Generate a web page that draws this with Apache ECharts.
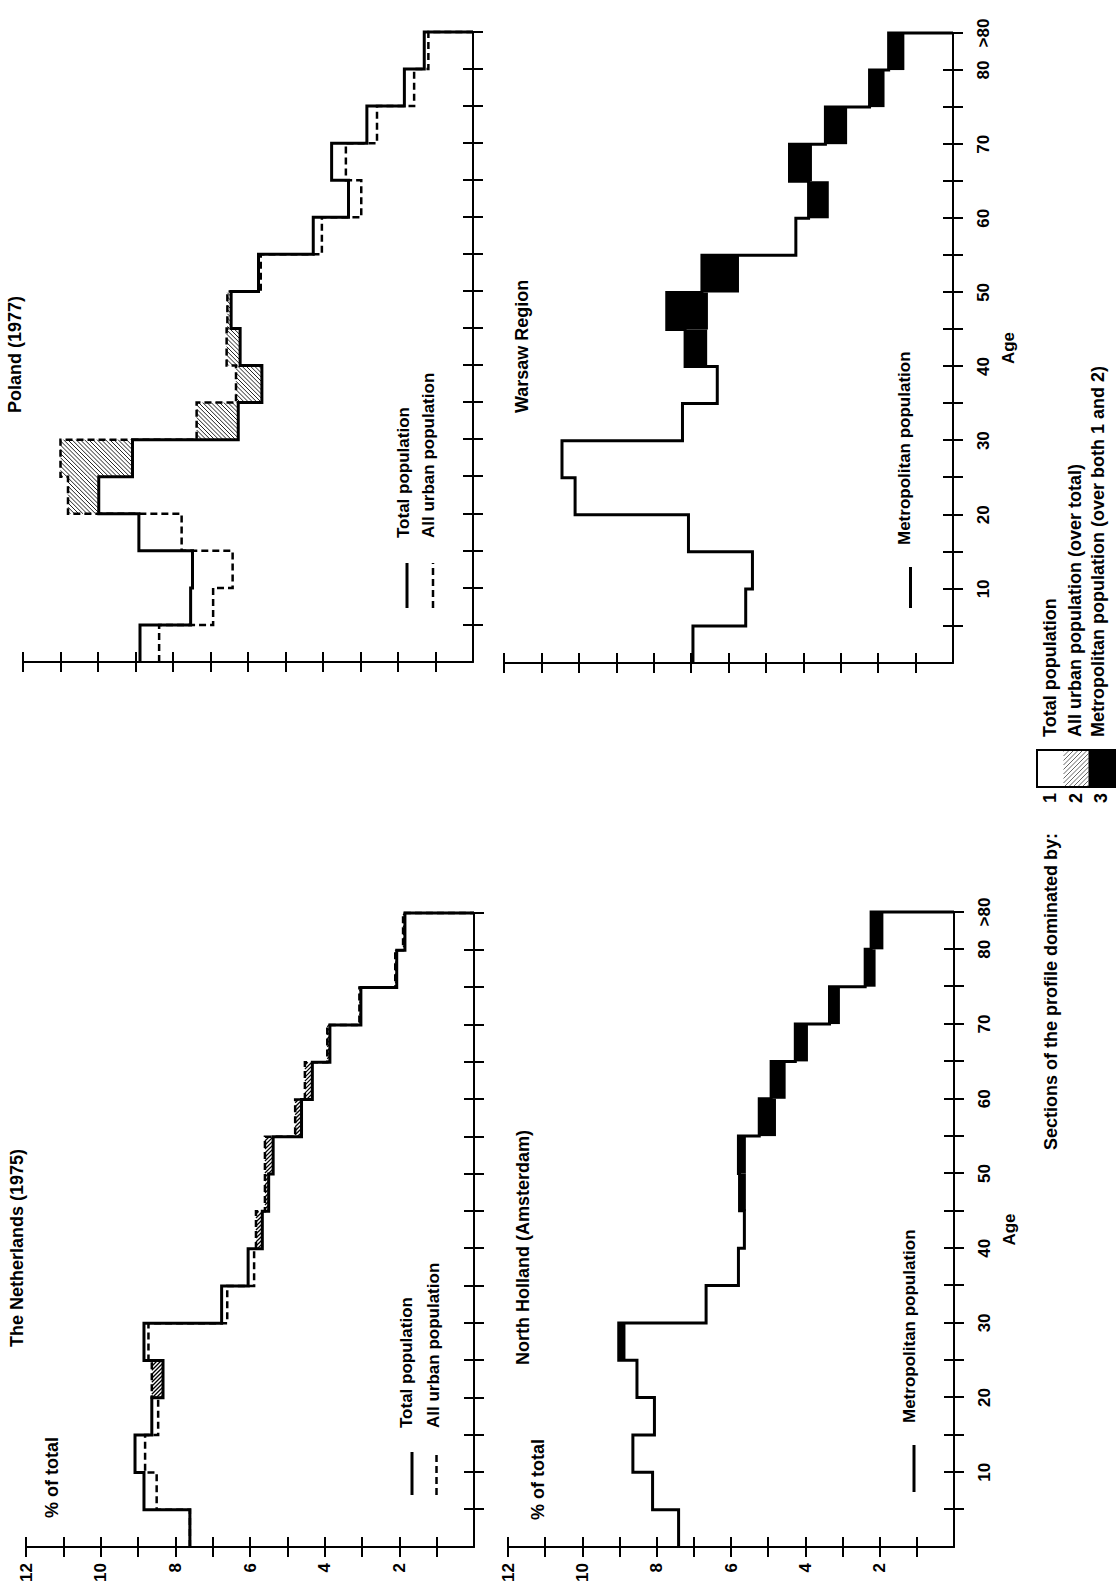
<!DOCTYPE html>
<html>
<head>
<meta charset="utf-8">
<title>Age profiles: The Netherlands and Poland</title>
<script src="https://cdn.jsdelivr.net/npm/echarts@6/dist/echarts.min.js"></script>
<style>
  html, body { margin: 0; padding: 0; background: #fff; overflow: hidden; width: 1118px; height: 1590px; }
  /* The figure is laid out landscape and turned a quarter turn to sit on the portrait page */
  #page { position: absolute; left: 0; top: 0; width: 1590px; height: 1118px;
          transform-origin: 0 0; transform: translateY(1590px) rotate(-90deg); background: #fff; }
</style>
</head>
<body>
<div id="page"></div>
<script>
// Five-year age groups (start of each group); the last group is ">80"
const ageStarts = [0, 5, 10, 15, 20, 25, 30, 35, 40, 45, 50, 55, 60, 65, 70, 75, 80];
const ageTickValues = [5, 10, 15, 20, 25, 30, 35, 40, 45, 50, 55, 60, 65, 70, 75, 80, 85];
const ageLabelValues = [10, 20, 30, 40, 50, 60, 70, 80, 85];
const pctTickValues = [1, 2, 3, 4, 5, 6, 7, 8, 9, 10, 11, 12];
const pctLabelValues = [2, 4, 6, 8, 10, 12];

// The Netherlands (1975), % of total in each age group
const nlTotal = [7.61, 8.84, 9.08, 8.63, 8.33, 8.84, 6.76, 6.05, 5.67, 5.50, 5.38, 4.62, 4.33, 3.86, 3.03, 2.07, 1.85];
const nlUrban = [7.61, 8.50, 8.81, 8.46, 8.63, 8.72, 6.61, 5.89, 5.84, 5.60, 5.60, 4.79, 4.53, 3.93, 3.07, 2.11, 1.90];
// North Holland (Amsterdam), metropolitan population
const nhMetro = [7.41, 8.11, 8.64, 8.06, 8.53, 9.02, 6.67, 5.80, 5.64, 5.77, 5.80, 5.24, 4.92, 4.27, 3.35, 2.39, 2.23];

// Poland (1977)
const plTotal = [8.88, 7.53, 7.48, 8.91, 9.98, 9.08, 6.26, 5.63, 6.21, 6.45, 5.72, 4.26, 3.32, 3.77, 2.83, 1.83, 1.30];
const plUrban = [8.37, 6.93, 6.41, 7.77, 10.80, 11.00, 7.37, 6.32, 6.57, 6.55, 5.66, 4.03, 2.98, 3.39, 2.56, 1.57, 1.19];
// Warsaw Region, metropolitan population
const waMetro = [6.95, 5.54, 5.36, 7.07, 10.10, 10.45, 7.23, 6.30, 7.16, 7.65, 6.71, 4.20, 3.86, 4.37, 3.41, 2.23, 1.72];

const FONT = '"Liberation Sans", Arial, Helvetica, sans-serif';
const INK = '#000';

// Step outline of a profile: each group is held flat to the next group start, closed down to zero after ">80"
function profile(vals) {
  return ageStarts.map((a, i) => [a, vals[i]])
    .concat([[85, vals[vals.length - 1]], [85, 0]]);
}

// Age groups where one profile lies above another: [ageFrom, ageTo, low, high]
function excess(upper, lowerFn) {
  const out = [];
  ageStarts.forEach((a, i) => {
    const lo = lowerFn(i);
    if (upper[i] > lo) out.push([a, a + 5, lo, upper[i]]);
  });
  return out;
}

// Diagonal hatch segments inside a pixel rectangle; dir 1 runs "\" and -1 runs "/"
function hatchSegments(x0, y0, x1, y1, dir, gap) {
  const segs = [];
  if (dir > 0) {
    const cMin = y0 - x1, cMax = y1 - x0;
    for (let c = Math.ceil(cMin / gap) * gap; c <= cMax; c += gap) {
      const xa = Math.max(x0, y0 - c), xb = Math.min(x1, y1 - c);
      if (xb - xa > 0.4) segs.push([xa, xa + c, xb, xb + c]);
    }
  } else {
    const cMin = x0 + y0, cMax = x1 + y1;
    for (let c = Math.ceil(cMin / gap) * gap; c <= cMax; c += gap) {
      const xa = Math.max(x0, c - y1), xb = Math.min(x1, c - y0);
      if (xb - xa > 0.4) segs.push([xa, c - xa, xb, c - xb]);
    }
  }
  return segs;
}

function hatchItem(dir, gap, lw, color) {
  return function (params, api) {
    const a = api.coord([api.value(0), api.value(3)]);
    const b = api.coord([api.value(1), api.value(2)]);
    const x0 = Math.min(a[0], b[0]), x1 = Math.max(a[0], b[0]);
    const y0 = Math.min(a[1], b[1]), y1 = Math.max(a[1], b[1]);
    const children = hatchSegments(x0, y0, x1, y1, dir, gap).map(s => ({
      type: 'line',
      shape: { x1: s[0], y1: s[1], x2: s[2], y2: s[3] },
      style: { stroke: color, lineWidth: lw, fill: null }
    }));
    return { type: 'group', children: children };
  };
}

function solidItem(params, api) {
  const a = api.coord([api.value(0), api.value(3)]);
  const b = api.coord([api.value(1), api.value(2)]);
  return {
    type: 'rect',
    shape: { x: Math.min(a[0], b[0]), y: Math.min(a[1], b[1]),
             width: Math.abs(b[0] - a[0]), height: Math.abs(b[1] - a[1]) },
    style: { fill: INK }
  };
}

const grids = [
  { left: 43, top: 26, width: 634, height: 448 },   // The Netherlands
  { left: 928, top: 23, width: 630, height: 450 },  // Poland
  { left: 43, top: 508, width: 635, height: 446 },  // North Holland
  { left: 927, top: 504, width: 630, height: 449 }  // Warsaw Region
].map(g => Object.assign({ containLabel: false, outerBoundsMode: 'none' }, g));

const labelFont = { color: INK, fontSize: 17, fontWeight: 'bold', fontFamily: FONT };
const tickLine = { color: INK, width: 2 };

const xAxes = [], yAxes = [];
grids.forEach((g, gi) => {
  const bottomRow = gi >= 2;
  const leftCol = gi % 2 === 0;
  // age axis: outer ticks with labels, then inner ticks so the ticks cross the line
  xAxes.push({
    type: 'value', gridIndex: gi, min: 0, max: 85, interval: 5, position: 'bottom',
    axisLine: { show: true, onZero: false, lineStyle: { color: INK, width: 2 } },
    axisTick: { show: true, inside: false, length: 10, customValues: ageTickValues, lineStyle: tickLine },
    axisLabel: Object.assign({
      show: bottomRow, customValues: ageLabelValues, margin: 22,
      formatter: v => (v === 85 ? '>80' : String(v))
    }, labelFont),
    splitLine: { show: false },
    name: bottomRow ? 'Age' : '', nameLocation: 'middle', nameGap: 47,
    nameTextStyle: labelFont
  });
  xAxes.push({
    type: 'value', gridIndex: gi, min: 0, max: 85, interval: 5, position: 'bottom',
    axisLine: { show: false, onZero: false },
    axisTick: { show: true, inside: true, length: 10, customValues: ageTickValues, lineStyle: tickLine },
    axisLabel: { show: false }, splitLine: { show: false }
  });
  // percentage axis: every whole percent ticked, even ones labelled
  yAxes.push({
    type: 'value', gridIndex: gi, min: 0, max: 12, interval: 1, position: 'left',
    axisLine: { show: true, onZero: false, lineStyle: { color: INK, width: 2 } },
    axisTick: { show: true, inside: false, length: 10, customValues: pctTickValues, lineStyle: tickLine },
    axisLabel: Object.assign({
      show: leftCol, margin: 16, hideOverlap: false,
      formatter: v => (pctLabelValues.indexOf(v) >= 0 ? String(v) : '')
    }, labelFont),
    splitLine: { show: false }
  });
  yAxes.push({
    type: 'value', gridIndex: gi, min: 0, max: 12, interval: 1, position: 'left',
    axisLine: { show: false, onZero: false },
    axisTick: { show: true, inside: true, length: 10, customValues: pctTickValues, lineStyle: tickLine },
    axisLabel: { show: false }, splitLine: { show: false }
  });
});

function stepLine(gi, name, vals, width, dashed) {
  return {
    type: 'line', name: name, xAxisIndex: gi * 2, yAxisIndex: gi * 2,
    data: profile(vals), step: 'end', symbol: 'none', clip: false, z: dashed ? 3 : 4,
    lineStyle: { color: INK, width: width, type: dashed ? [7, 4] : 'solid', join: 'miter', cap: 'butt' }
  };
}

function fillSeries(gi, name, data, renderItem) {
  return {
    type: 'custom', name: name, xAxisIndex: gi * 2, yAxisIndex: gi * 2,
    data: data, encode: { x: [0, 1], y: [2, 3] }, renderItem: renderItem,
    clip: false, silent: true, z: 2
  };
}

const series = [
  // The Netherlands
  fillSeries(0, 'All urban population', excess(nlUrban, i => nlTotal[i]), hatchItem(1, 4, 1.3, INK)),
  stepLine(0, 'All urban population', nlUrban, 2.5, true),
  stepLine(0, 'Total population', nlTotal, 3, false),
  // Poland
  fillSeries(1, 'All urban population', excess(plUrban, i => plTotal[i]), hatchItem(-1, 4.2, 1, '#222')),
  stepLine(1, 'All urban population', plUrban, 2.5, true),
  stepLine(1, 'Total population', plTotal, 3, false),
  // North Holland: metropolitan excess over both national profiles
  fillSeries(2, 'Metropolitan population', excess(nhMetro, i => Math.max(nlTotal[i], nlUrban[i])), solidItem),
  stepLine(2, 'Metropolitan population', nhMetro, 3, false),
  // Warsaw Region
  fillSeries(3, 'Metropolitan population', excess(waMetro, i => Math.max(plTotal[i], plUrban[i])), solidItem),
  stepLine(3, 'Metropolitan population', waMetro, 3, false)
];

function label(x, y, s, size, align) {
  return {
    type: 'text', x: x, y: y, silent: true,
    style: { text: s, fill: INK, fontSize: size, fontWeight: 'bold', fontFamily: FONT,
             align: align || 'left', verticalAlign: 'middle' }
  };
}
function rule(x1, y1, x2, y2, dashed) {
  return {
    type: 'line', silent: true, shape: { x1: x1, y1: y1, x2: x2, y2: y2 },
    style: { stroke: INK, lineWidth: dashed ? 2.5 : 3, lineDash: dashed ? [7, 4] : null }
  };
}

// Key for the shading: three cells in one framed box
const key = { x: 803, y: 1037, w: 37, cells: [26.5, 25, 26.5] };
const keyEls = [];
(function () {
  const y1 = key.y + key.cells[0], y2 = y1 + key.cells[1], y3 = y2 + key.cells[2];
  keyEls.push({ type: 'rect', silent: true, shape: { x: key.x, y: key.y, width: key.w, height: y3 - key.y },
                style: { fill: '#fff', stroke: null } });
  hatchSegments(key.x, y1, key.x + key.w, y2, 1, 4.5).forEach(s => keyEls.push({
    type: 'line', silent: true, shape: { x1: s[0], y1: s[1], x2: s[2], y2: s[3] },
    style: { stroke: '#555', lineWidth: 0.9 }
  }));
  keyEls.push({ type: 'rect', silent: true, shape: { x: key.x, y: y2, width: key.w, height: y3 - y2 },
                style: { fill: INK } });
  keyEls.push({ type: 'rect', silent: true, shape: { x: key.x, y: key.y, width: key.w, height: y3 - key.y },
                style: { fill: null, stroke: INK, lineWidth: 2 } });
})();

const graphicEls = [
  // panel titles
  label(243, 17, 'The Netherlands (1975)', 18),
  label(1177, 14.5, 'Poland (1977)', 18),
  label(225, 523, 'North Holland (Amsterdam)', 18),
  label(1177, 521.5, 'Warsaw Region', 18),
  label(72, 51.5, '% of total', 18),
  label(70, 538, '% of total', 18),
  // line keys inside the panels
  rule(95, 412, 138, 412, false), label(162, 406, 'Total population', 17),
  rule(95, 436.5, 138, 436.5, true), label(162, 433, 'All urban population', 17),
  rule(982, 407, 1027, 407, false), label(1052, 403, 'Total population', 17),
  rule(982, 433, 1027, 433, true), label(1052, 428, 'All urban population', 17),
  rule(98, 914, 145, 914, false), label(167, 909.5, 'Metropolitan population', 17),
  rule(982, 910.5, 1023, 910.5, false), label(1045, 904.5, 'Metropolitan population', 17),
  // shading key
  label(440, 1051, 'Sections of the profile dominated by:', 18),
  label(792, 1050, '1', 18, 'center'),
  label(792, 1076, '2', 18, 'center'),
  label(792, 1101, '3', 18, 'center'),
  label(853, 1049.5, 'Total population', 18),
  label(853, 1074.5, 'All urban population (over total)', 18),
  label(853, 1098, 'Metropolitan population (over both 1 and 2)', 18)
].concat(keyEls);

const chart = echarts.init(document.getElementById('page'), null, { renderer: 'svg', width: 1590, height: 1118 });
chart.setOption({
  backgroundColor: '#fff',
  animation: false,
  textStyle: { fontFamily: FONT, color: INK },
  grid: grids,
  xAxis: xAxes,
  yAxis: yAxes,
  series: series,
  graphic: { elements: graphicEls }
});
</script>
</body>
</html>
